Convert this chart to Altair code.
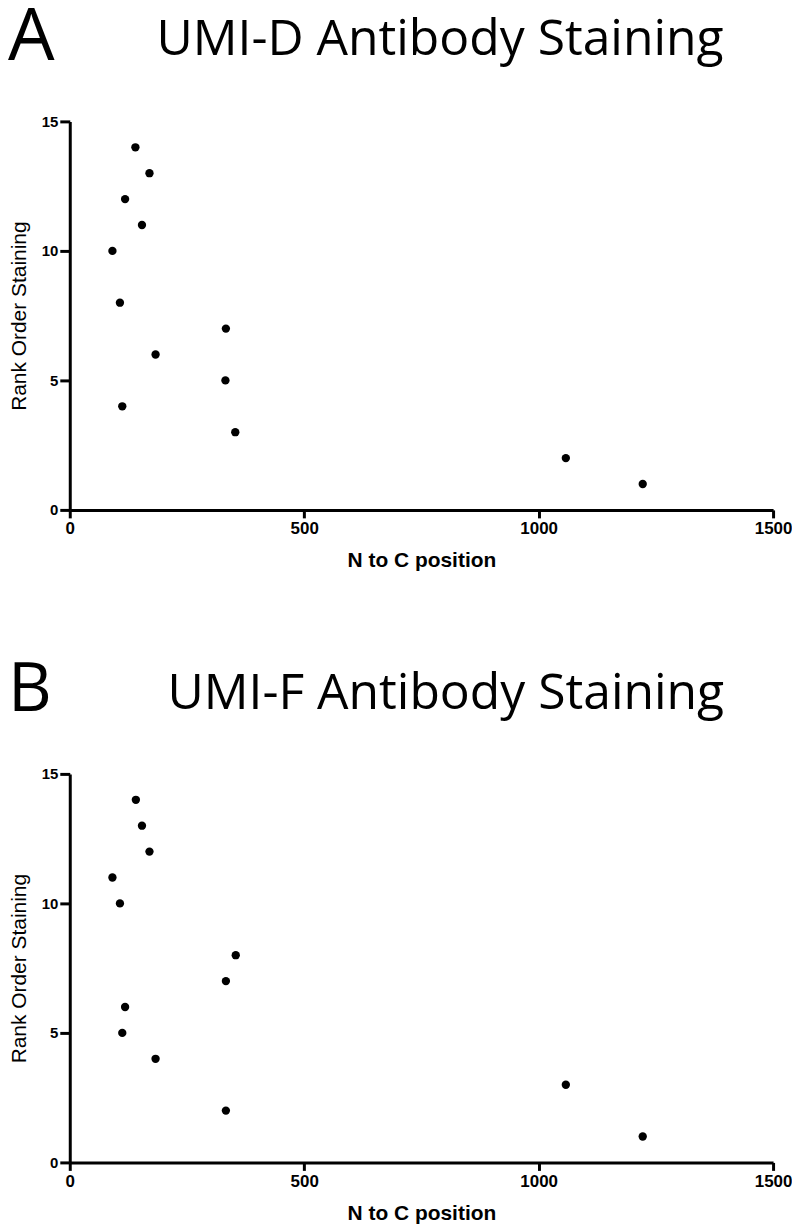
import altair as alt
import pandas as pd

# Panel A: UMI-D
pos_d = [91, 107, 112, 118, 140, 154, 170, 183, 332, 333, 353, 1058, 1222]
rank_d = [10, 8, 4, 12, 14, 11, 13, 6, 5, 7, 3, 2, 1]
# Panel B: UMI-F
pos_f = [91, 107, 112, 118, 141, 154, 170, 183, 333, 333, 354, 1058, 1222]
rank_f = [11, 10, 5, 6, 14, 13, 12, 4, 7, 2, 8, 3, 1]

titles = ["UMI-D Antibody Staining", "UMI-F Antibody Staining"]
letters = ["A", "B"]
x_ticks = [0, 500, 1000, 1500]
y_ticks = [0, 5, 10, 15]
x_title = "N to C position"
y_title = "Rank Order Staining"

W, H = 706, 390


def panel(pos, rank, letter, title, letter_size, letter_dx, letter_dy, title_dx, title_dy):
    df = pd.DataFrame({"pos": pos, "rank": rank})
    pts = alt.Chart(df).mark_circle(size=70, color="black", opacity=1).encode(
        x=alt.X("pos:Q", scale=alt.Scale(domain=[0, 1500], nice=False),
                axis=alt.Axis(values=x_ticks, format="d", title=x_title, titleFontWeight="bold",
                              titleFontSize=21, titlePadding=13, labelPadding=3,
                              labelFontSize=17, tickSize=8, labelFlush=False)),
        y=alt.Y("rank:Q", scale=alt.Scale(domain=[0, 15], nice=False),
                axis=alt.Axis(values=y_ticks, format="d", title=y_title, titleFontWeight="normal",
                              titleFontSize=21, titlePadding=12, labelPadding=2,
                              labelFontSize=15, tickSize=10, labelFlush=False)),
    )
    lab = alt.Chart(pd.DataFrame({"t": [letter]})).mark_text(
        font="Open Sans", fontSize=letter_size, align="left", baseline="alphabetic", color="black"
    ).encode(text="t:N", x=alt.value(letter_dx), y=alt.value(letter_dy))
    ttl = alt.Chart(pd.DataFrame({"t": [title]})).mark_text(
        font="Open Sans", fontSize=50, align="left", baseline="alphabetic", color="black"
    ).encode(text="t:N", x=alt.value(title_dx), y=alt.value(title_dy))
    return alt.layer(pts, lab, ttl).properties(width=W, height=H)


pa = panel(pos_d, rank_d, letters[0], titles[0], 74, -62, -62, 87, -67)
pb = panel(pos_f, rank_f, letters[1], titles[1], 68, -62, -63.5, 98, -65.5)

chart = alt.vconcat(pa, pb, spacing=265, bounds="flush").configure(
    padding={"left": 0, "top": -9.5, "right": 0, "bottom": 0}
).configure_view(stroke=None).configure_axis(
    grid=False,
    domainColor="black", domainWidth=3,
    tickColor="black", tickWidth=3,
    labelFont="Liberation Sans", labelFontWeight="bold", labelColor="black",
    titleFont="Liberation Sans", titleColor="black",
)

chart.save("out.html", embed_options={"renderer": "svg", "actions": False})
